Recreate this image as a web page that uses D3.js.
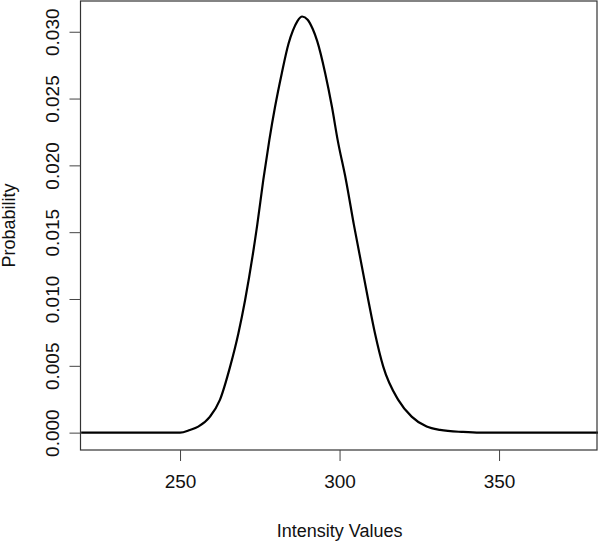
<!DOCTYPE html>
<html>
<head>
<meta charset="utf-8">
<script src="https://cdn.jsdelivr.net/npm/d3@7"></script>
<style>
  body { margin: 0; background: #fff; }
  text { font-family: "Liberation Sans", Arial, sans-serif; fill: #111; }
</style>
</head>
<body>
<script>
// density curve
var intensity = [219, 235, 250, 253.1, 255.7, 259.4, 262.5, 265.7, 268.3, 270.4, 274.2, 276.1, 278.0, 279.8, 281.9, 284.0, 285.4, 286.8, 288.3, 290.0, 291.6, 293.0, 295.5, 297.6, 299.4, 302.0, 304.5, 309.0, 311.1, 313.7, 318.4, 322.6, 327.3, 331.5, 338.7, 344, 360, 381];
var probability = [0, 0, 0, 0.0002, 0.00045, 0.0012, 0.00245, 0.00494, 0.00744, 0.00993, 0.01555, 0.01891, 0.02191, 0.0244, 0.0269, 0.0291, 0.0301, 0.0308, 0.03114, 0.0309, 0.0302, 0.0293, 0.0269, 0.0244, 0.02191, 0.01891, 0.01555, 0.00993, 0.00744, 0.00494, 0.00245, 0.0012, 0.00045, 0.0002, 0.00005, 0, 0, 0];

var xTicks = [250, 300, 350];
var yTicks = [0, 0.005, 0.010, 0.015, 0.020, 0.025, 0.030];

var w = 600, h = 541;
var padL = 80.5, padR = 597, padT = 1, padB = 450;

var x = d3.scaleLinear().domain([218.8, 380.7]).range([padL, padR]);
var y = d3.scaleLinear().domain([-0.0013, 0.0323]).range([padB, padT]);

var svg = d3.select("body").append("svg").attr("width", w).attr("height", h);

var data = intensity.map((d, i) => ({ x: d, y: probability[i] }));

var line = d3.line().x(d => x(d.x)).y(d => y(d.y)).curve(d3.curveMonotoneX);

svg.append("path").datum(data)
  .attr("d", line)
  .attr("fill", "none")
  .attr("stroke", "#000")
  .attr("stroke-width", 2.2)
  .attr("stroke-linejoin", "round");

// plot box
svg.append("rect")
  .attr("x", padL).attr("y", padT)
  .attr("width", padR - padL).attr("height", padB - padT)
  .attr("fill", "none").attr("stroke", "#333").attr("stroke-width", 1.2);

var xAxis = d3.axisBottom(x).tickValues(xTicks).tickSize(11).tickPadding(14).tickFormat(d3.format("d"));
var gx = svg.append("g").attr("transform", "translate(0," + padB + ")").call(xAxis);
gx.select(".domain").remove();
gx.selectAll("line").attr("stroke", "#444");
gx.selectAll("text").style("font-size", "19px").attr("fill", "#111");

var yAxis = d3.axisLeft(y).tickValues(yTicks).tickSize(11).tickFormat(d3.format(".3f"));
var gy = svg.append("g").attr("transform", "translate(" + padL + ",0)").call(yAxis);
gy.select(".domain").remove();
gy.selectAll("line").attr("stroke", "#444");
gy.selectAll("text")
  .style("font-size", "19px")
  .attr("fill", "#111")
  .attr("x", null).attr("dy", null)
  .attr("text-anchor", "middle")
  .attr("transform", "translate(-22,0) rotate(-90)");

svg.append("text")
  .attr("x", x(300)).attr("y", 537)
  .attr("text-anchor", "middle")
  .style("font-size", "18px")
  .text("Intensity Values");

svg.append("text")
  .attr("transform", "translate(15," + ((padT + padB) / 2) + ") rotate(-90)")
  .attr("text-anchor", "middle")
  .style("font-size", "18px")
  .text("Probability");
</script>
</body>
</html>
